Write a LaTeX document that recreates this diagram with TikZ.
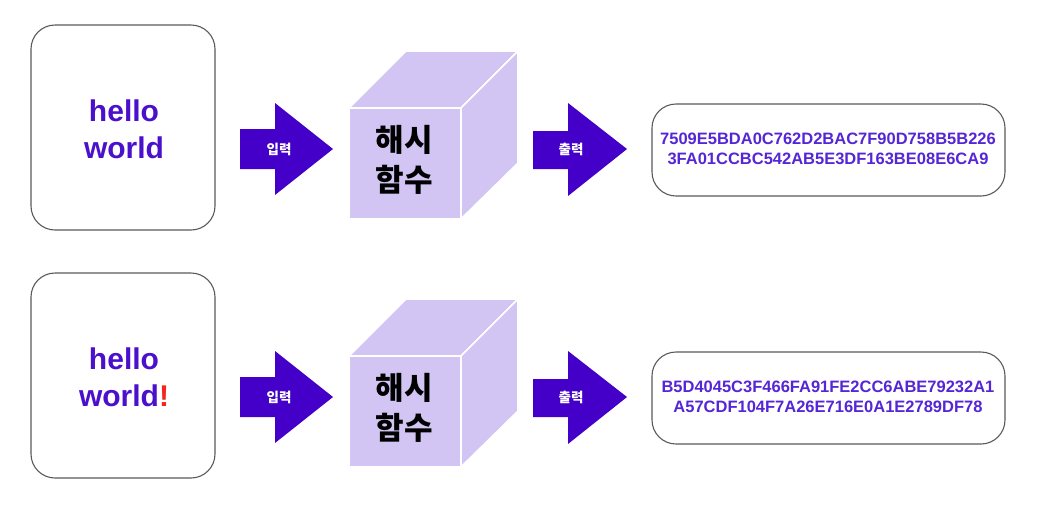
\documentclass[tikz,border=0pt]{standalone}
\usepackage{fontspec}
\setmainfont{Liberation Sans}
\newfontfamily\kr{Noto Sans CJK KR}
\definecolor{arrowpurple}{HTML}{4400C8}
\definecolor{txtpurple}{HTML}{4A10CC}
\definecolor{hashpurple}{HTML}{5526D6}
\definecolor{cubefill}{HTML}{D2C5F4}
\definecolor{boxline}{HTML}{5A5A5A}
\definecolor{bangred}{HTML}{F5261E}
\tikzset{
  roundbox/.style={draw=boxline, line width=1.1pt, fill=white, rounded corners=24pt},
  bigtxt/.style={text=txtpurple, font=\fontsize{30}{37}\selectfont\bfseries, align=center},
  hashtxt/.style={text=hashpurple, font=\fontsize{16.5}{20}\selectfont\bfseries, align=center},
  cubeface/.style={fill=cubefill, draw=white, line width=1.6pt, line join=miter},
  cubetxt/.style={text=black, font=\kr\fontsize{31}{40}\selectfont\bfseries, align=center},
  fatarrow/.style={fill=arrowpurple, draw=none},
  arrowlbl/.style={text=white, font=\kr\fontsize{13.5}{15}\selectfont\bfseries},
}
\begin{document}
\begin{tikzpicture}[x=1pt,y=-1pt]
\useasboundingbox (0,0) rectangle (1047,504);
\fill[white] (0,0) rectangle (1047,504);
\foreach \r/\dy/\hashA/\hashB/\bang in {1/0/7509E5BDA0C762D2BAC7F90D758B5B226/3FA01CCBC542AB5E3DF163BE08E6CA9/,
  2/248/B5D4045C3F466FA91FE2CC6ABE79232A1/A57CDF104F7A26E716E0A1E2789DF78/{\textcolor{bangred}{!}}}{
  \begin{scope}[yshift=-\dy pt]
    % input box
    \draw[roundbox] (31,25) rectangle (215,230);
    \node[bigtxt] (in\r) at (124,129) {hello\\world\bang};
    % input arrow
    \fill[fatarrow] (240,129) -- (275,129) -- (275,103) -- (333,149) -- (275,195) -- (275,169) -- (240,169) -- cycle;
    \node[arrowlbl] (inlbl\r) at (279,149) {입력};
    % cube
    \draw[cubeface] (349,108) -- (406,51) -- (518,51) -- (461,108) -- cycle;
    \draw[cubeface] (461,108) -- (518,51) -- (518,163) -- (461,219) -- cycle;
    \draw[cubeface] (349,108) rectangle (461,219);
    \node[cubetxt] (hash\r) at (404,160) {해시\\함수};
    % output arrow
    \fill[fatarrow] (533,131) -- (568,131) -- (568,103) -- (627,149) -- (568,196) -- (568,169) -- (533,169) -- cycle;
    \node[arrowlbl] (outlbl\r) at (571,149) {출력};
    % output box
    \draw[roundbox] (652,104) rectangle (1005,196);
    \node[hashtxt] (out\r) at (828,149) {\hashA\\\hashB};
  \end{scope}
}
\end{tikzpicture}
\end{document}
